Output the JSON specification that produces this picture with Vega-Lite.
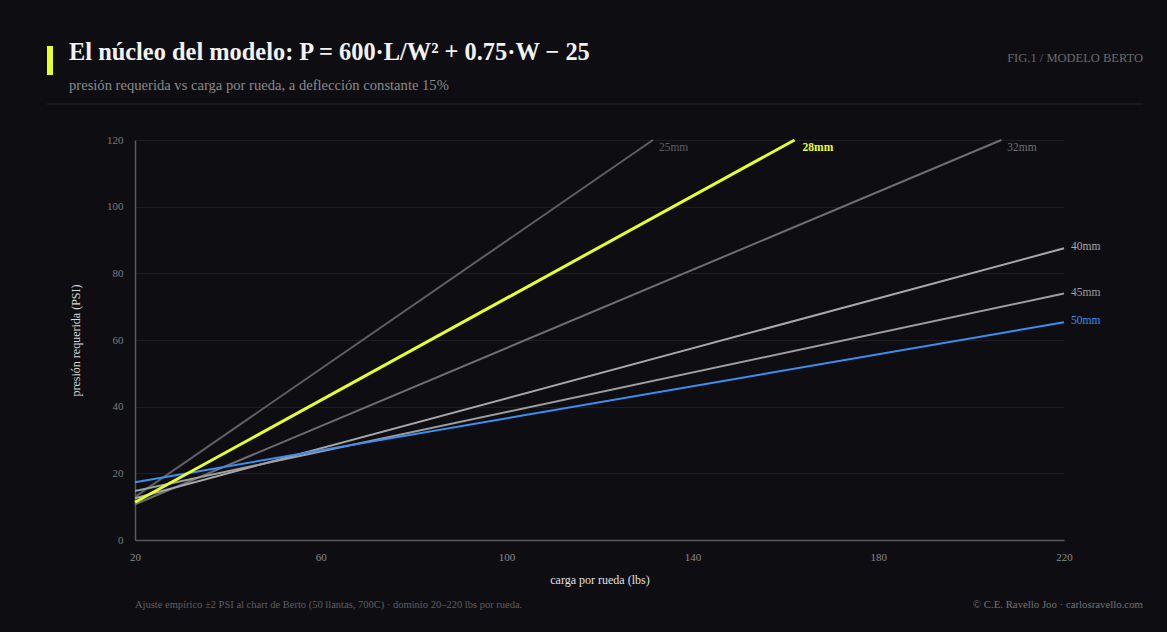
{
  "$schema": "https://vega.github.io/schema/vega-lite/v6.json",
  "width": 929,
  "height": 400,
  "autosize": {"type": "none"},
  "padding": {"left": 135, "top": 140, "right": 103, "bottom": 92},
  "background": "#0e0e12",
  "title": {
    "text": "El núcleo del modelo: P = 600·L/W² + 0.75·W − 25",
    "subtitle": "presión requerida vs carga por rueda, a deflección constante 15%",
    "anchor": "start",
    "frame": "group",
    "dx": -66,
    "offset": -51,
    "font": "Liberation Serif",
    "fontSize": 24.4,
    "fontWeight": "bold",
    "color": "#f2f2f2",
    "subtitleFont": "Liberation Serif",
    "subtitleFontSize": 14.6,
    "subtitleColor": "#8a8a8a",
    "subtitlePadding": 13
  },
  "config": {
    "view": {"stroke": null},
    "font": "Liberation Serif",
    "axis": {"zindex": 0}
  },
  "datasets": {
    "curves": [
      {"ancho": "25mm", "carga": 20, "psi": 12.95},
      {"ancho": "25mm", "carga": 131.5, "psi": 120},
      {"ancho": "28mm", "carga": 20, "psi": 11.31},
      {"ancho": "28mm", "carga": 162.0, "psi": 120},
      {"ancho": "32mm", "carga": 20, "psi": 10.72},
      {"ancho": "32mm", "carga": 206.5, "psi": 120},
      {"ancho": "40mm", "carga": 20, "psi": 12.5},
      {"ancho": "40mm", "carga": 220, "psi": 87.5},
      {"ancho": "45mm", "carga": 20, "psi": 14.68},
      {"ancho": "45mm", "carga": 220, "psi": 73.94},
      {"ancho": "50mm", "carga": 20, "psi": 17.3},
      {"ancho": "50mm", "carga": 220, "psi": 65.3}
    ],
    "ends": [
      {"ancho": "25mm", "carga": 131.5, "psi": 120, "pos": "top"},
      {"ancho": "28mm", "carga": 162.0, "psi": 120, "pos": "top"},
      {"ancho": "32mm", "carga": 206.5, "psi": 120, "pos": "top"},
      {"ancho": "40mm", "carga": 220, "psi": 87.5, "pos": "right"},
      {"ancho": "45mm", "carga": 220, "psi": 73.94, "pos": "right"},
      {"ancho": "50mm", "carga": 220, "psi": 65.3, "pos": "right"}
    ]
  },
  "layer": [
    {
      "data": {"values": [{}]},
      "mark": {"type": "rule", "color": "#26262b", "strokeWidth": 1},
      "encoding": {
        "x": {"datum": 1.06, "type": "quantitative", "scale": {"domain": [20, 220], "nice": false, "zero": false}},
        "x2": {"datum": 237.0},
        "y": {"datum": 130.8, "type": "quantitative", "scale": {"domain": [0, 120], "nice": false}}
      }
    },
    {
      "data": {"values": [{}]},
      "mark": {"type": "rule", "color": "#e6ff2e", "strokeWidth": 6},
      "encoding": {
        "x": {"datum": 1.7, "type": "quantitative", "scale": {"domain": [20, 220], "nice": false, "zero": false}},
        "y": {"datum": 148.2, "type": "quantitative", "scale": {"domain": [0, 120], "nice": false}},
        "y2": {"datum": 139.5}
      }
    },
    {
      "data": {"values": [{}]},
      "mark": {"type": "text", "align": "right", "baseline": "middle", "font": "Liberation Serif", "fontSize": 12.5, "color": "#6a6a6a"},
      "encoding": {
        "x": {"datum": 237.0, "type": "quantitative", "scale": {"domain": [20, 220], "nice": false, "zero": false}},
        "y": {"datum": 144.6, "type": "quantitative", "scale": {"domain": [0, 120], "nice": false}},
        "text": {"value": "FIG.1 / MODELO BERTO"}
      }
    },
    {
      "data": {"values": [{}]},
      "mark": {"type": "text", "align": "left", "baseline": "middle", "fontSize": 10.5, "color": "#5e5e62"},
      "encoding": {
        "x": {"datum": 20, "type": "quantitative", "scale": {"domain": [20, 220], "nice": false, "zero": false}},
        "y": {"datum": -19.5, "type": "quantitative", "scale": {"domain": [0, 120], "nice": false}},
        "text": {"value": "Ajuste empírico ±2 PSI al chart de Berto (50 llantas, 700C) · dominio 20–220 lbs por rueda."}
      }
    },
    {
      "data": {"values": [{}]},
      "mark": {"type": "text", "align": "right", "baseline": "middle", "fontSize": 10.8, "color": "#727276"},
      "encoding": {
        "x": {"datum": 237.0, "type": "quantitative", "scale": {"domain": [20, 220], "nice": false, "zero": false}},
        "y": {"datum": -19.5, "type": "quantitative", "scale": {"domain": [0, 120], "nice": false}},
        "text": {"value": "© C.E. Ravello Joo · carlosravello.com"}
      }
    },
    {
      "data": {"name": "curves"},
      "transform": [{"filter": "datum.ancho !== '28mm'"}],
      "mark": {"type": "line", "strokeWidth": 2},
      "encoding": {
        "x": {
          "field": "carga", "type": "quantitative",
          "scale": {"domain": [20, 220], "nice": false, "zero": false},
          "axis": {
            "title": "carga por rueda (lbs)",
            "values": [20, 60, 100, 140, 180, 220],
            "grid": false,
            "ticks": false,
            "labelFlush": false,
            "domainColor": "#5a5a5e",
            "domainWidth": 1.5,
            "labelColor": "#8a8a8a",
            "labelFont": "Liberation Serif",
            "labelFontSize": 11,
            "labelPadding": 11,
            "titleColor": "#e0e0e0",
            "titleFont": "Liberation Serif",
            "titleFontSize": 12,
            "titleFontWeight": "normal",
            "titlePadding": 12
          }
        },
        "y": {
          "field": "psi", "type": "quantitative",
          "scale": {"domain": [0, 120], "nice": false},
          "axis": {
            "title": "presión requerida (PSI)",
            "values": [0, 20, 40, 60, 80, 100, 120],
            "grid": true,
            "gridColor": "#1d1d22",
            "gridWidth": 1,
            "ticks": false,
            "labelFlush": false,
            "domainColor": "#5a5a5e",
            "domainWidth": 1.5,
            "labelColor": "#7a7a7a",
            "labelFont": "Liberation Serif",
            "labelFontSize": 11,
            "labelPadding": 12,
            "titleColor": "#d8d8d8",
            "titleFont": "Liberation Serif",
            "titleFontSize": 12,
            "titleFontWeight": "normal",
            "titlePadding": 24
          }
        },
        "color": {
          "field": "ancho", "type": "nominal",
          "scale": {
            "domain": ["25mm", "28mm", "32mm", "40mm", "45mm", "50mm"],
            "range": ["#5f5f63", "#e6ff2e", "#6e6e72", "#a8a8a8", "#9e9e9e", "#3b8ff0"]
          },
          "legend": null
        },
        "detail": {"field": "ancho"}
      }
    },
    {
      "data": {"name": "curves"},
      "transform": [{"filter": "datum.ancho === '28mm'"}],
      "mark": {"type": "line", "strokeWidth": 3},
      "encoding": {
        "x": {"field": "carga", "type": "quantitative"},
        "y": {"field": "psi", "type": "quantitative"},
        "color": {"field": "ancho", "type": "nominal", "legend": null}
      }
    },
    {
      "data": {"name": "ends"},
      "transform": [{"filter": "datum.pos === 'top' && datum.ancho !== '28mm'"}],
      "mark": {"type": "text", "align": "left", "baseline": "middle", "dx": 6, "dy": 8, "fontSize": 11.5},
      "encoding": {
        "x": {"field": "carga", "type": "quantitative"},
        "y": {"field": "psi", "type": "quantitative"},
        "text": {"field": "ancho"},
        "color": {"field": "ancho", "type": "nominal", "legend": null}
      }
    },
    {
      "data": {"name": "ends"},
      "transform": [{"filter": "datum.ancho === '28mm'"}],
      "mark": {"type": "text", "align": "left", "baseline": "middle", "dx": 8, "dy": 8, "fontSize": 11.5, "fontWeight": "bold"},
      "encoding": {
        "x": {"field": "carga", "type": "quantitative"},
        "y": {"field": "psi", "type": "quantitative"},
        "text": {"field": "ancho"},
        "color": {"field": "ancho", "type": "nominal", "legend": null}
      }
    },
    {
      "data": {"name": "ends"},
      "transform": [{"filter": "datum.pos === 'right'"}],
      "mark": {"type": "text", "align": "left", "baseline": "middle", "dx": 7, "dy": -1, "fontSize": 11.5},
      "encoding": {
        "x": {"field": "carga", "type": "quantitative"},
        "y": {"field": "psi", "type": "quantitative"},
        "text": {"field": "ancho"},
        "color": {"field": "ancho", "type": "nominal", "legend": null}
      }
    }
  ]
}
